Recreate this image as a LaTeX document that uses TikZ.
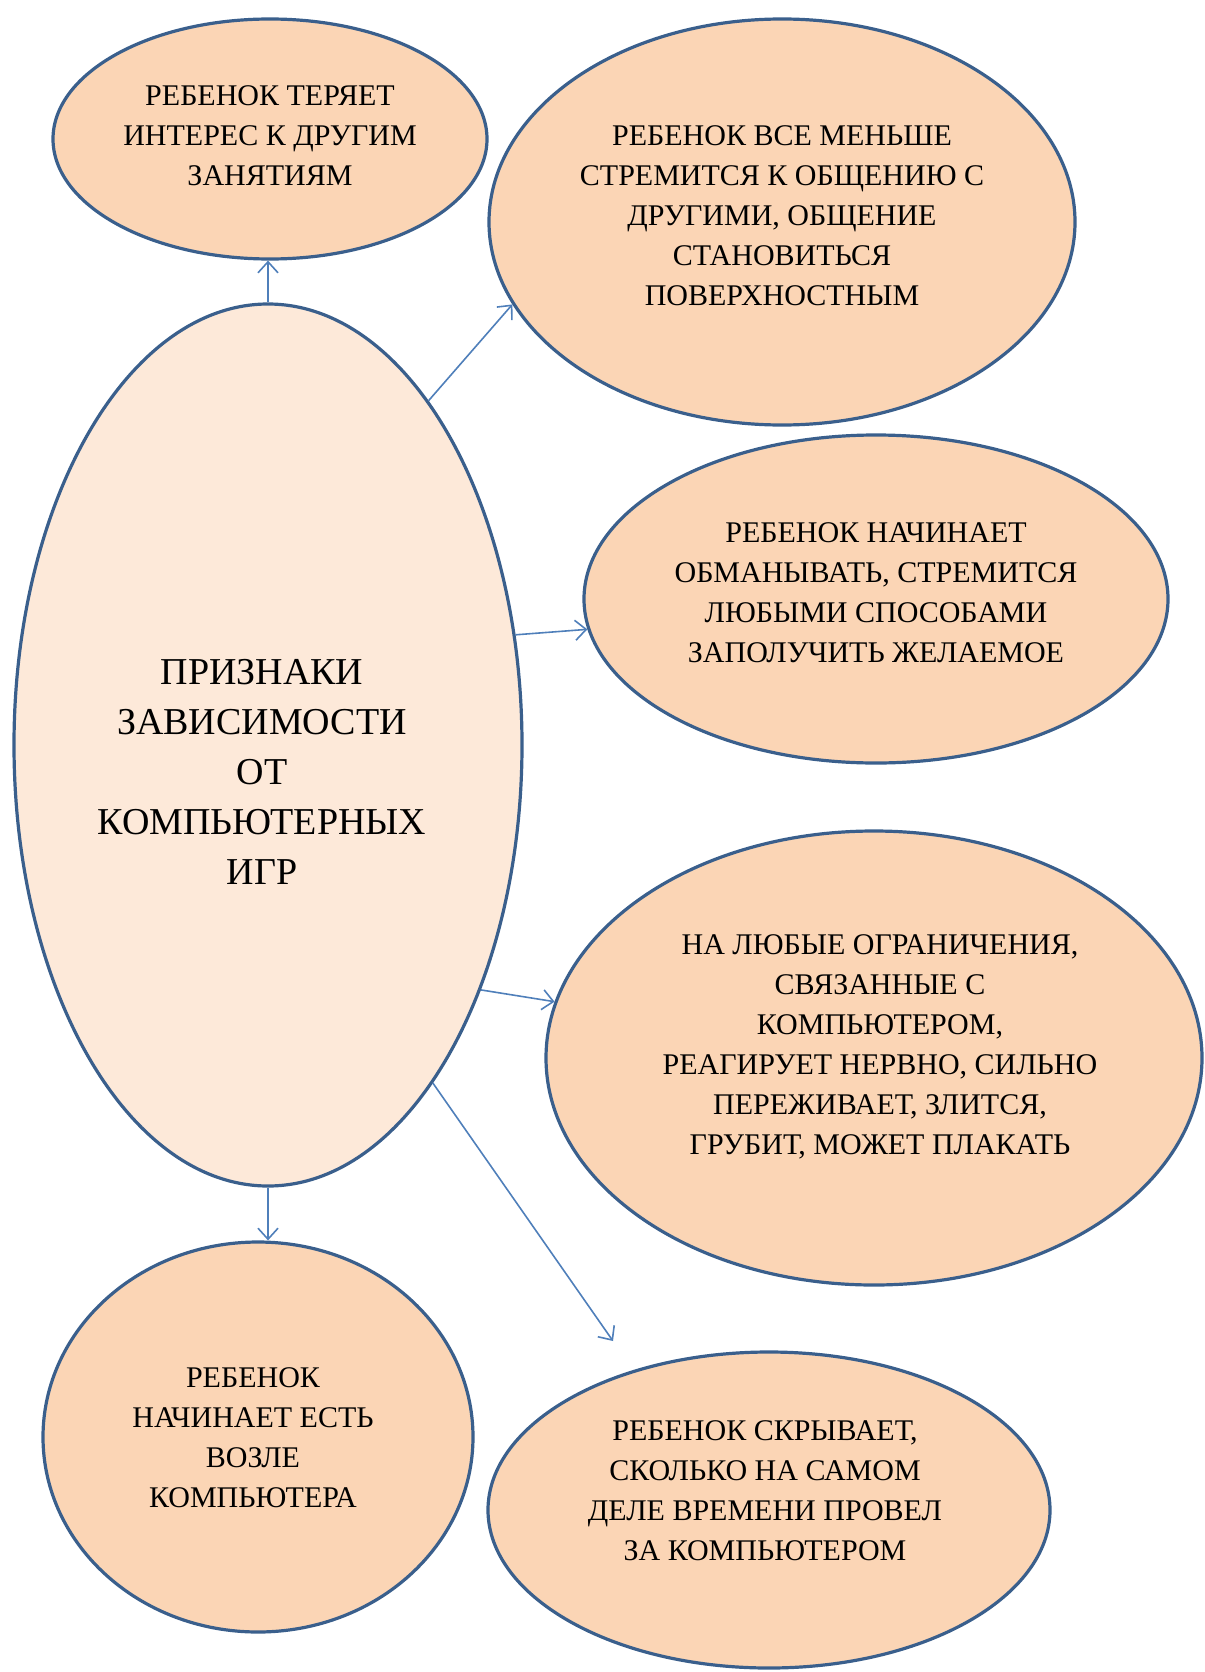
\documentclass[tikz,border=0pt]{standalone}
\usepackage{fontspec}
\setmainfont{Liberation Serif}
\usetikzlibrary{shapes.geometric,arrows.meta}
\definecolor{peach}{HTML}{FBD5B5}
\definecolor{peachlight}{HTML}{FDE9D9}
\definecolor{edgeblue}{HTML}{3A5F8C}
\definecolor{arrowblue}{HTML}{4F7FBA}
\tikzset{
  bubble/.style={ellipse, draw=edgeblue, line width=3.2pt, fill=peach, inner sep=0pt},
  bubbletext/.style={align=center, font=\fontsize{30}{40}\selectfont, inner sep=0pt},
  maintext/.style={align=center, font=\fontsize{38}{50}\selectfont, inner sep=0pt},
  link/.style={draw=arrowblue, line width=1.6pt, -{Straight Barb[length=11pt,width=20pt,line width=1.6pt]}}
}
\begin{document}
\begin{tikzpicture}[x=1pt,y=-1pt]
\useasboundingbox (0,0) rectangle (1204,1672);
% ellipses
\node[bubble, minimum width=434pt, minimum height=240pt] (tl) at (270,139) {};
\node[bubble, minimum width=586pt, minimum height=406pt] (tr) at (782,222) {};
\node[bubble, minimum width=584pt, minimum height=328pt] (mr) at (876,599) {};
\node[bubble, minimum width=656pt, minimum height=454pt] (br) at (874,1058) {};
\node[bubble, fill=peachlight, minimum width=508pt, minimum height=882pt] (main) at (268,745) {};
\node[bubble, minimum width=430pt, minimum height=390pt] (bl) at (258,1437) {};
\node[bubble, minimum width=562pt, minimum height=316pt] (bb) at (769,1510) {};
% texts
\node[bubbletext] (tlt) at (270,136) {РЕБЕНОК ТЕРЯЕТ\\ИНТЕРЕС К ДРУГИМ\\ЗАНЯТИЯМ};
\node[bubbletext] (trt) at (782,216) {РЕБЕНОК ВСЕ МЕНЬШЕ\\СТРЕМИТСЯ К ОБЩЕНИЮ С\\ДРУГИМИ, ОБЩЕНИЕ\\СТАНОВИТЬСЯ\\ПОВЕРХНОСТНЫМ};
\node[bubbletext] (mrt) at (876,593) {РЕБЕНОК НАЧИНАЕТ\\ОБМАНЫВАТЬ, СТРЕМИТСЯ\\ЛЮБЫМИ СПОСОБАМИ\\ЗАПОЛУЧИТЬ ЖЕЛАЕМОЕ};
\node[bubbletext] (brt) at (880,1047) {НА ЛЮБЫЕ ОГРАНИЧЕНИЯ,\\СВЯЗАННЫЕ С\\КОМПЬЮТЕРОМ,\\РЕАГИРУЕТ НЕРВНО, СИЛЬНО\\ПЕРЕЖИВАЕТ, ЗЛИТСЯ,\\ГРУБИТ, МОЖЕТ ПЛАКАТЬ};
\node[bubbletext] (blt) at (253,1438) {РЕБЕНОК\\НАЧИНАЕТ ЕСТЬ\\ВОЗЛЕ\\КОМПЬЮТЕРА};
\node[bubbletext] (bbt) at (765,1491) {РЕБЕНОК СКРЫВАЕТ,\\СКОЛЬКО НА САМОМ\\ДЕЛЕ ВРЕМЕНИ ПРОВЕЛ\\ЗА КОМПЬЮТЕРОМ};
\node[maintext] (maint) at (262,772) {ПРИЗНАКИ\\ЗАВИСИМОСТИ\\ОТ\\КОМПЬЮТЕРНЫХ\\ИГР};
% connectors
\coordinate (bbin) at (613,1341);
\draw[link] (main.north) -- (main.north |- tl.south);
\draw[link] (main.65) -- (tr.197);
\draw[link] (main.24) -- (mr.186);
\draw[link] (main.-49.5) -- (br.170);
\draw[link] (main.-64.6) -- (bbin);
\draw[link] (main.south) -- (main.south |- bl.north);
\end{tikzpicture}
\end{document}
